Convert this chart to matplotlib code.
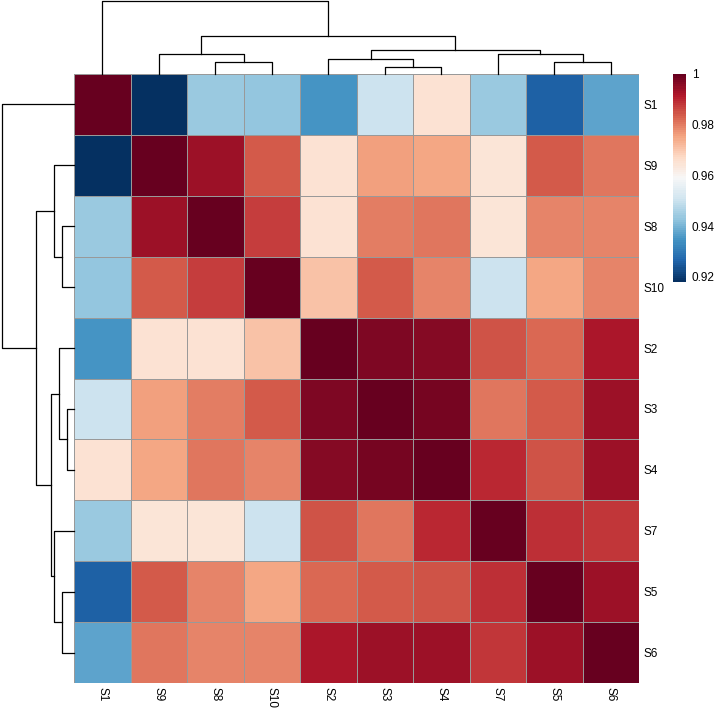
import numpy as np
import matplotlib
matplotlib.use("Agg")
import matplotlib.pyplot as plt

plt.rcParams['font.family'] = ['Liberation Sans', 'DejaVu Sans']

# samples in clustered order
labels = ["S1", "S9", "S8", "S10", "S2", "S3", "S4", "S7", "S5", "S6"]

# upper triangle of the correlation matrix, row by row (clustered order)
corr_upper = [
    [0.918, 0.944, 0.943, 0.935, 0.950, 0.9655, 0.944, 0.926, 0.937],
    [0.994, 0.984, 0.965, 0.976, 0.975, 0.9645, 0.984, 0.981],
    [0.987, 0.965, 0.9795, 0.981, 0.964, 0.979, 0.979],
    [0.9705, 0.984, 0.979, 0.950, 0.975, 0.979],
    [0.997, 0.996, 0.985, 0.982, 0.992],
    [0.998, 0.981, 0.984, 0.994],
    [0.990, 0.985, 0.994],
    [0.989, 0.988],
    [0.994],
]

# dendrogram merges: (left, right, height); ints point at earlier merges
merges = [
    ("S3", "S4", 21),
    ("S8", "S10", 36),
    ("S5", "S6", 36),
    ("S2", 0, 44),
    ("S9", 1, 59),
    ("S7", 2, 59),
    (3, 5, 70),
    (4, 6, 114),
    ("S1", 7, 217),
]

cbar_ticks = [0.92, 0.94, 0.96, 0.98, 1.0]
cbar_ticklabels = ["0.92", "0.94", "0.96", "0.98", "1"]

n = len(labels)
mat = np.eye(n)
for i, row in enumerate(corr_upper):
    for k, v in enumerate(row):
        j = i + 1 + k
        mat[i, j] = v
        mat[j, i] = v


def tree_segments():
    pos = {}
    segs = []
    for m, (a, b, h) in enumerate(merges):
        pa = (labels.index(a) + 0.5, 0) if isinstance(a, str) else pos[a]
        pb = (labels.index(b) + 0.5, 0) if isinstance(b, str) else pos[b]
        segs.append(([pa[0], pa[0], pb[0], pb[0]], [pa[1], h, h, pb[1]]))
        pos[m] = ((pa[0] + pb[0]) / 2, h)
    return segs


W, H = 718, 708
fig = plt.figure(figsize=(W / 100, H / 100), dpi=100)

hx0, hx1, hy0, hy1 = 74, 639, 74, 683
ax = fig.add_axes([hx0 / W, 1 - hy1 / H, (hx1 - hx0) / W, (hy1 - hy0) / H])
vmin, vmax = mat.min(), mat.max()
cmap = plt.get_cmap("RdBu_r", 100)
mesh = ax.pcolormesh(np.arange(n + 1), np.arange(n + 1), mat, cmap=cmap,
                     vmin=vmin, vmax=vmax, edgecolors="#999999", linewidth=0.7)
ax.set_xlim(0, n)
ax.set_ylim(n, 0)
ax.set_xticks(np.arange(n) + 0.5)
ax.set_xticklabels(labels, rotation=270, fontsize=8.5)
ax.set_yticks(np.arange(n) + 0.5)
ax.set_yticklabels(labels, fontsize=8.5)
ax.yaxis.tick_right()
ax.tick_params(length=0, pad=3)
for s in ax.spines.values():
    s.set_visible(False)

top_h = max(m[2] for m in merges)
segs = tree_segments()

axt = fig.add_axes([hx0 / W, 1 - hy0 / H, (hx1 - hx0) / W, (hy0 - 1) / H])
for xs, ys in segs:
    axt.plot(xs, ys, color="black", lw=0.9, clip_on=False)
axt.set_xlim(0, n)
axt.set_ylim(0, top_h)
axt.axis("off")

axl = fig.add_axes([2 / W, 1 - hy1 / H, (hx0 - 2) / W, (hy1 - hy0) / H])
for xs, ys in segs:
    axl.plot(ys, xs, color="black", lw=0.9, clip_on=False)
axl.set_ylim(n, 0)
axl.set_xlim(top_h, 0)
axl.axis("off")

cx0, cx1, cy0, cy1 = 673, 686, 74, 282
cax = fig.add_axes([cx0 / W, 1 - cy1 / H, (cx1 - cx0) / W, (cy1 - cy0) / H])
cb = fig.colorbar(mesh, cax=cax, ticks=cbar_ticks)
cb.ax.set_yticklabels(cbar_ticklabels, fontsize=8.5)
cb.ax.tick_params(length=0, pad=4)
cb.outline.set_visible(False)

fig.savefig("out.png", dpi=100)
